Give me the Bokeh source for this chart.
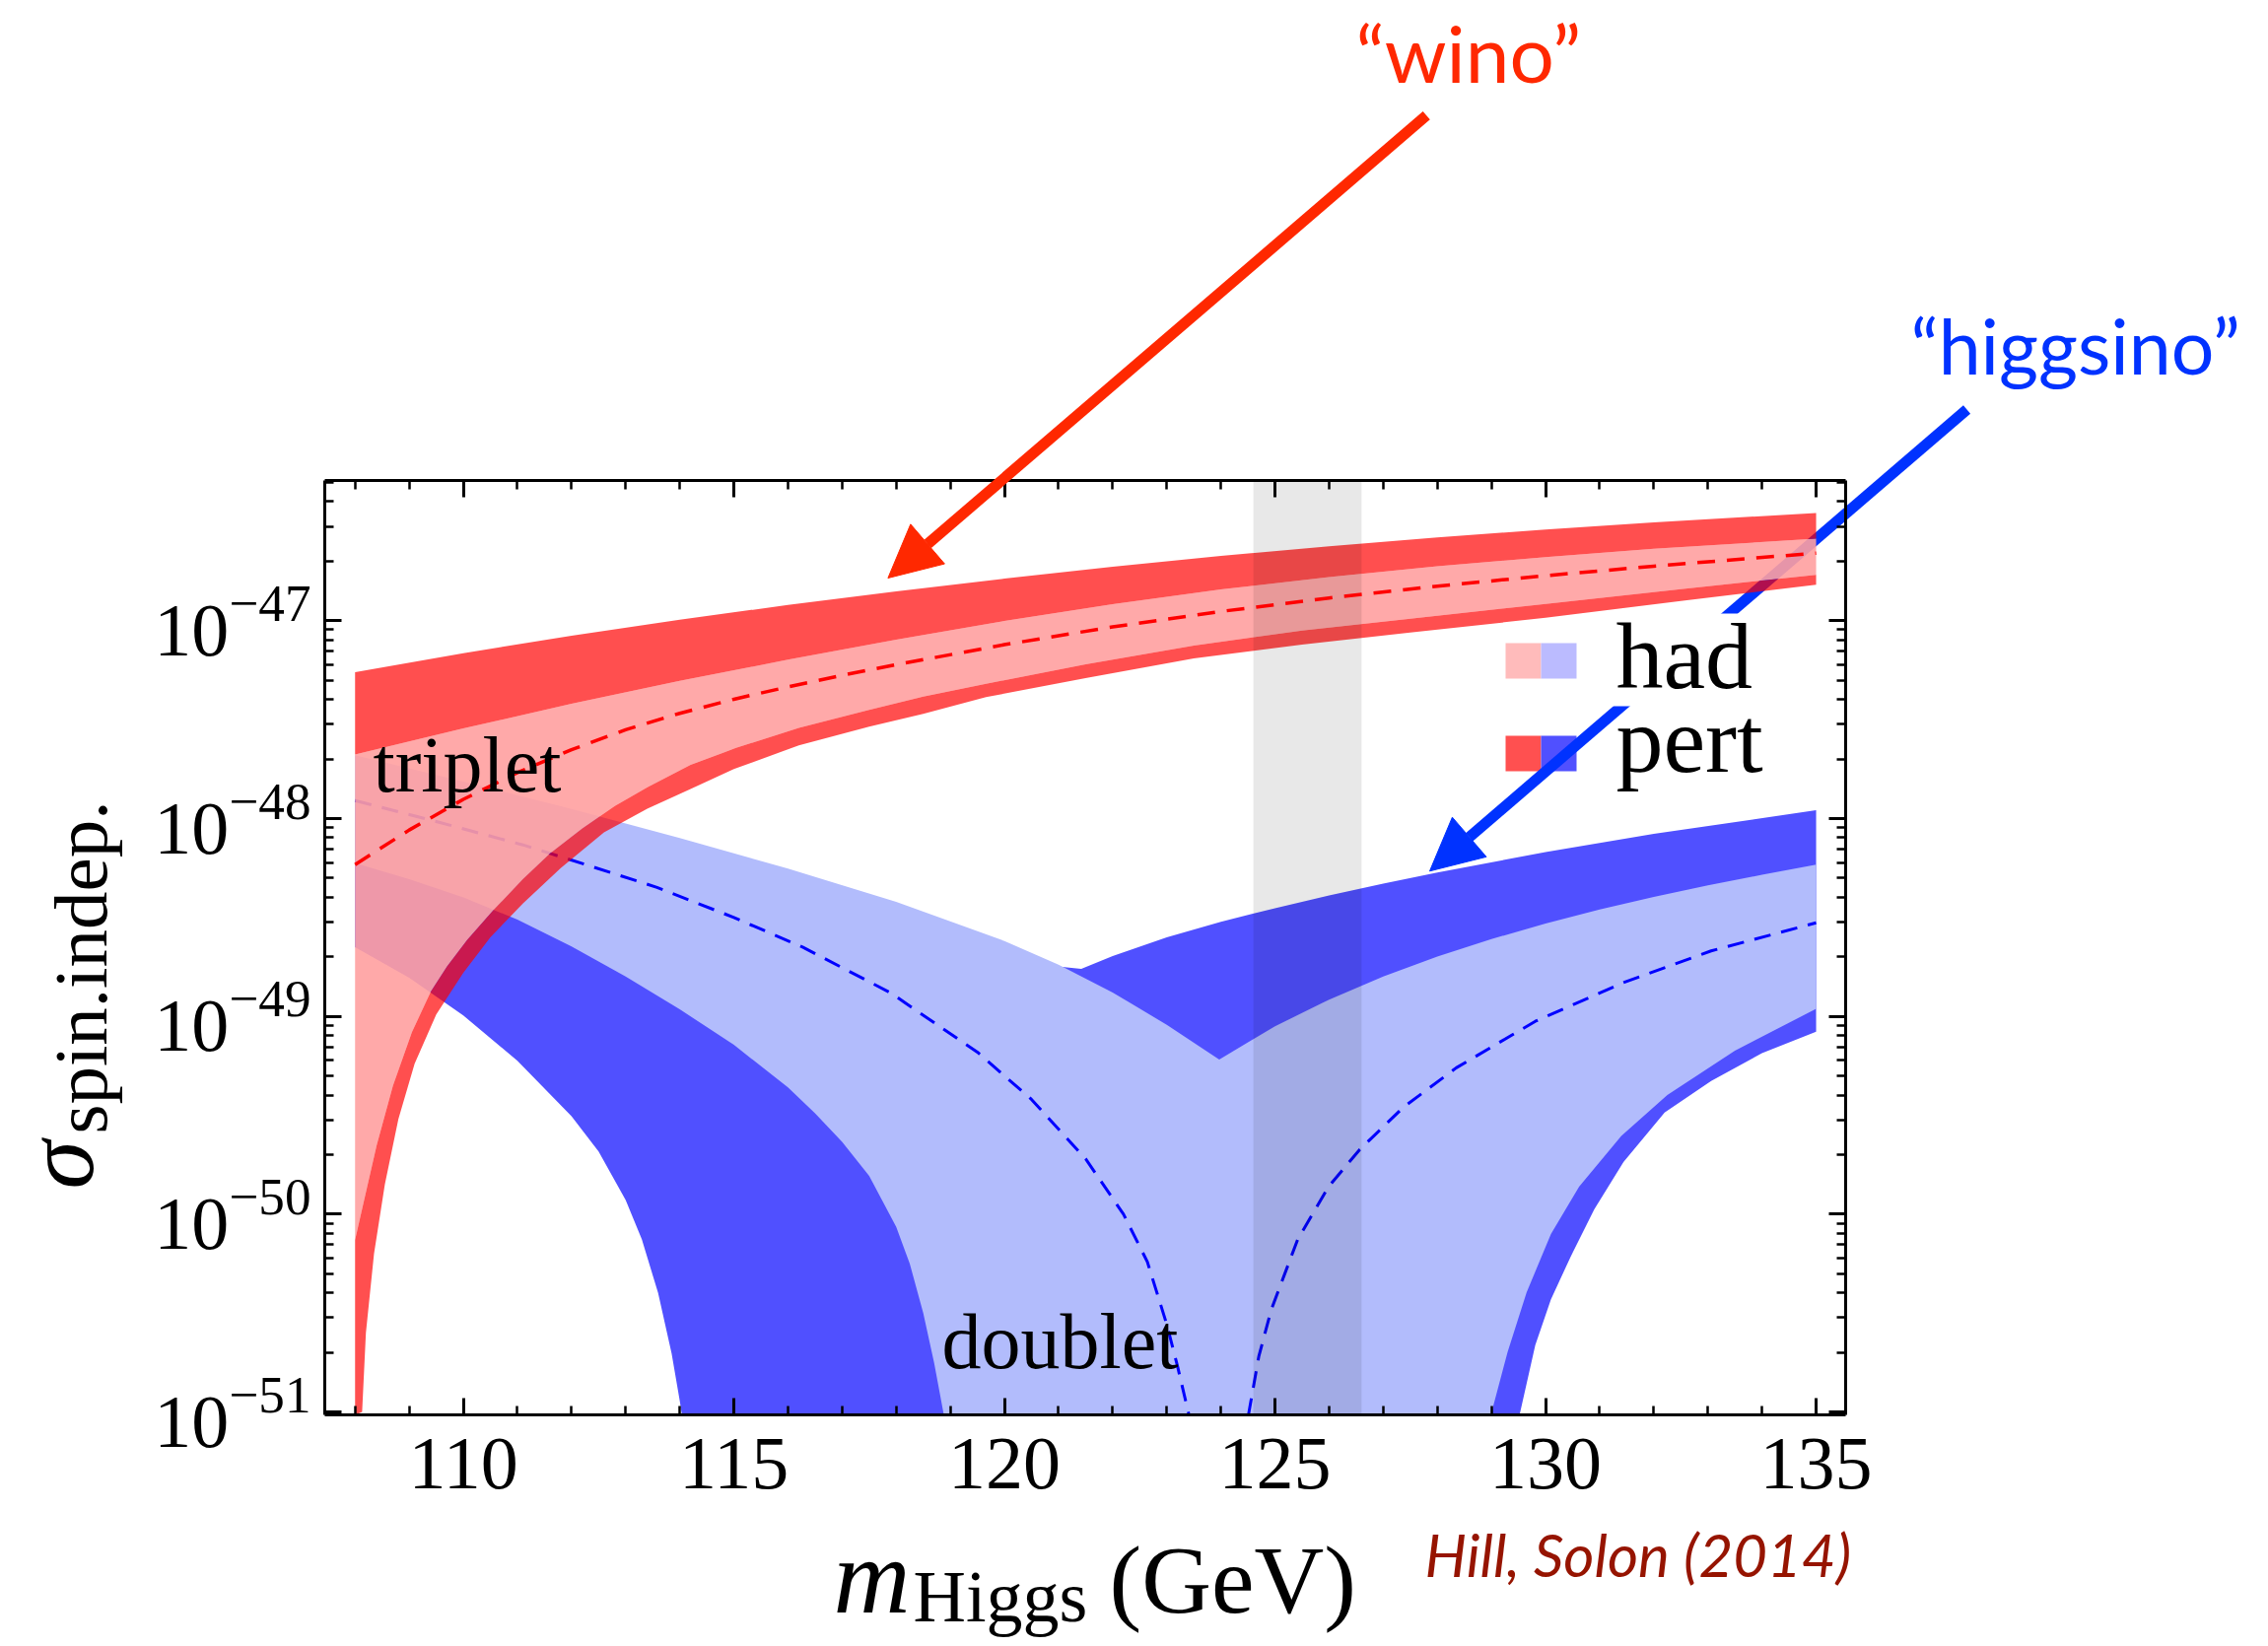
import math
from bokeh.plotting import figure
from bokeh.models import (FixedTicker, LinearAxis, LogAxis, Label, Arrow, NormalHead,
                          CustomJSTickFormatter, Range1d)
from bokeh.embed import file_html
from bokeh.resources import INLINE

# ---------------- geometry helpers (reference page pixels -> data) ----------------
PX_LEFT, PX_PER_GEV, X0 = 329.0, 54.9, 107.44
PY_E47, PX_PER_DEC = 629.3, 200.7

def X(px):
    return X0 + (px - PX_LEFT) / PX_PER_GEV

def LY(py):
    return -47.0 - (py - PY_E47) / PX_PER_DEC

def Y(py):
    return 10.0 ** LY(py)

BOTTOM = LY(1435)          # log10 of the lower edge of the plot box (bands reaching zero end here)

# ---------------- data ----------------
x_major_ticks = [110, 115, 120, 125, 130, 135]
x_minor_ticks = list(range(108, 136))
y_major_exponents = [-51, -50, -49, -48, -47]
higgs_mass_band = [124.6, 126.6]

# triplet ("wino"): log10(sigma)
trip_pert_up_x = [108, 110, 112, 114, 116, 118, 120, 122, 124, 126, 128, 130, 132, 135]
trip_pert_up_lg = [-47.26, -47.164, -47.076, -46.995, -46.92, -46.851, -46.787, -46.727, -46.672,
                   -46.623, -46.579, -46.539, -46.503, -46.455]
trip_had_up_x = [108, 110, 112, 114, 116, 118, 120, 122, 124, 126, 128, 130, 132, 135]
trip_had_up_lg = [-47.676, -47.544, -47.42, -47.304, -47.197, -47.096, -47.001, -46.916, -46.842,
                  -46.779, -46.725, -46.678, -46.636, -46.585]
trip_central_x = [108, 109, 110, 111, 112, 113, 114, 115, 116, 117, 118, 120, 122, 124, 126, 128, 130, 132, 135]
trip_central_lg = [-48.233, -48.058, -47.903, -47.768, -47.652, -47.551, -47.468, -47.397, -47.334,
                   -47.276, -47.222, -47.121, -47.031, -46.953, -46.885, -46.825, -46.772, -46.724, -46.658]
trip_had_lo_x = [108.0, 108.15, 108.4, 108.7, 109.05, 109.4, 109.7, 110.07, 110.55, 111.1, 111.6, 112.2,
                 112.8, 113.41, 114.2, 115.04, 116.2, 117.48, 118.5, 119.66, 121.5, 123.5, 125.5, 127.5,
                 130, 132.5, 135]
trip_had_lo_lg = [-50.13, -49.95, -49.65, -49.35, -49.08, -48.874, -48.747, -48.614, -48.465, -48.307,
                  -48.177, -48.05, -47.936, -47.84, -47.729, -47.643, -47.541, -47.452, -47.383, -47.319,
                  -47.22, -47.125, -47.05, -46.99, -46.915, -46.84, -46.768]
trip_pert_lo_x = [108.0, 108.13, 108.2, 108.35, 108.55, 108.8, 109.1, 109.5, 110.0, 110.5, 111.1, 111.8,
                  112.6, 113.4, 114.2, 115.0, 116.2, 117.5, 118.5, 119.66, 121.5, 123.5, 125.5, 127.5,
                  130, 132.5, 135]
trip_pert_lo_lg = [BOTTOM, -51.0, -50.6, -50.2, -49.85, -49.52, -49.24, -48.99, -48.78, -48.60, -48.43,
                   -48.25, -48.07, -47.95, -47.85, -47.75, -47.63, -47.535, -47.47, -47.386, -47.29,
                   -47.19, -47.12, -47.06, -46.985, -46.9, -46.818]

# doublet ("higgsino"): log10(sigma)
doub_had_up_x = [108, 110, 112, 114, 116, 118, 120, 121, 122, 123, 123.97, 125, 126, 127, 128, 129,
                 130, 131, 132, 133, 134, 135]
doub_had_up_lg = [-47.68, -47.813, -47.952, -48.098, -48.253, -48.421, -48.619, -48.739, -48.879,
                  -49.042, -49.218, -49.05, -48.915, -48.799, -48.698, -48.609, -48.531, -48.46,
                  -48.396, -48.338, -48.284, -48.233]
doub_pert_up_x = [108, 113, 117, 120, 121.42, 122, 123, 124, 125, 126, 127, 128, 130, 132, 135]
doub_pert_up_lg = [-47.9, -48.2, -48.5, -48.72, -48.76, -48.695, -48.60, -48.522, -48.453, -48.389,
                   -48.329, -48.273, -48.169, -48.077, -47.958]
doub_had_lo_left_x = [108, 109, 110, 111, 112, 113, 114, 115, 116, 116.5, 117, 117.5, 118, 118.25,
                      118.5, 118.7, 118.88]
doub_had_lo_left_lg = [-48.226, -48.306, -48.399, -48.511, -48.646, -48.799, -48.964, -49.144, -49.359,
                       -49.49, -49.634, -49.806, -50.064, -50.25, -50.50, -50.75, BOTTOM]
doub_had_lo_right_x = [128.99, 129.3, 129.65, 130.1, 130.62, 131.4, 132.25, 133.5, 135]
doub_had_lo_right_lg = [BOTTOM, -50.695, -50.395, -50.10, -49.861, -49.604, -49.398, -49.173, -48.962]
doub_pert_lo_left_x = [108, 109, 110, 111, 112, 112.5, 113, 113.3, 113.6, 113.85, 114.0, 114.04]
doub_pert_lo_left_lg = [-48.65, -48.805, -48.995, -49.225, -49.505, -49.683, -49.928, -50.128, -50.398,
                        -50.704, -50.944, BOTTOM]
doub_pert_lo_right_x = [129.52, 129.81, 130.1, 130.46, 130.9, 131.44, 132.2, 133.06, 134.0, 135]
doub_pert_lo_right_lg = [BOTTOM, -50.662, -50.43, -50.217, -49.975, -49.737, -49.486, -49.327, -49.186, -49.078]
doub_central_left_x = [108, 109.5, 111.1, 112.3, 113.58, 115.0, 116.27, 117.89, 119.52, 120.5, 121.5,
                       122.2, 122.64, 123.0, 123.2, 123.41]
doub_central_left_lg = [-47.909, -48.015, -48.133, -48.236, -48.348, -48.50, -48.65, -48.88, -49.185,
                        -49.42, -49.72, -50.0, -50.24, -50.557, -50.77, BOTTOM]
doub_central_right_x = [124.51, 124.7, 124.93, 125.42, 125.99, 126.56, 127.37, 128.35, 129.81, 131.44, 133.06, 135]
doub_central_right_lg = [BOTTOM, -50.72, -50.484, -50.127, -49.861, -49.675, -49.46, -49.26, -49.025,
                         -48.829, -48.669, -48.527]

# ---------------- helpers ----------------
def sig(lg):
    return [10.0 ** v for v in lg]

def poly(ux, ulg, lower_parts):
    xs, ys = list(ux), list(ulg)
    for lx, llg in lower_parts:
        xs += list(lx)[::-1]
        ys += list(llg)[::-1]
    return xs, sig(ys)

W, H = 2300, 1668
x_lo, x_hi = X(329), X(1872)
y_lo, y_hi = Y(1435), Y(487)

p = figure(frame_width=W, frame_height=H, min_border=0,
           x_range=Range1d(X(0), X(W)), y_range=Range1d(Y(H), Y(0)), y_axis_type="log",
           output_backend="svg", toolbar_location=None)
p.grid.visible = False
p.outline_line_color = None
p.background_fill_color = "white"
p.border_fill_color = "white"

xt = FixedTicker(ticks=x_major_ticks, minor_ticks=x_minor_ticks)
y_minor = [m * 10.0 ** e for e in range(-52, -45) for m in range(2, 10)]
y_minor = [v for v in y_minor if y_lo <= v <= y_hi]
yt = FixedTicker(ticks=[10.0 ** e for e in y_major_exponents], minor_ticks=y_minor)

def style_axis(ax):
    ax.axis_line_width = 3
    ax.axis_line_color = "black"
    ax.major_tick_in = 17
    ax.major_tick_out = 0
    ax.minor_tick_in = 9
    ax.minor_tick_out = 0
    ax.major_tick_line_width = 3
    ax.minor_tick_line_width = 2.5
    ax.major_tick_line_color = "black"
    ax.minor_tick_line_color = "black"
    ax.major_label_text_font = "Liberation Serif"
    ax.major_label_text_font_size = "76px"
    ax.major_label_text_color = "black"

xa = p.xaxis[0]
xa.ticker = xt
xa.fixed_location = y_lo
xa.bounds = (x_lo, x_hi)
style_axis(xa)
xa.major_label_standoff = 24
ya = p.yaxis[0]
ya.ticker = yt
ya.fixed_location = x_lo
ya.bounds = (y_lo, y_hi)
style_axis(ya)
ya.major_label_standoff = 14

blank = CustomJSTickFormatter(code="return ''")
top = LinearAxis(ticker=xt, formatter=blank, fixed_location=y_hi, bounds=(x_lo, x_hi))
style_axis(top)
p.add_layout(top, "above")
right = LogAxis(ticker=yt, formatter=blank, fixed_location=x_hi, bounds=(y_lo, y_hi))
style_axis(right)
p.add_layout(right, "right")

# ---------------- doublet bands (underlay) ----------------
BLUE_DARK = "#5050FF"
BLUE_LIGHT = "#B2BCFC"
xs, ys = poly(doub_pert_up_x, doub_pert_up_lg,
              [(doub_pert_lo_right_x, doub_pert_lo_right_lg), (doub_pert_lo_left_x, doub_pert_lo_left_lg)])
p.patch(xs, ys, fill_color=BLUE_DARK, line_color=None, level="underlay")
xs, ys = poly(doub_had_up_x, doub_had_up_lg,
              [(doub_had_lo_right_x, doub_had_lo_right_lg), (doub_had_lo_left_x, doub_had_lo_left_lg)])
p.patch(xs, ys, fill_color=BLUE_LIGHT, line_color=None, level="underlay")
p.line(doub_central_left_x, sig(doub_central_left_lg), line_color="#0000FF", line_width=3,
       line_dash="17 11", level="underlay")
p.line(doub_central_right_x, sig(doub_central_right_lg), line_color="#0000FF", line_width=3,
       line_dash="17 11", level="underlay")

# legend swatches of the "pert" row (the arrow passes over them)
p.quad(left=[X(1527)], right=[X(1563)], bottom=[Y(782)], top=[Y(746)], fill_color="#FF5050",
       line_color=None, level="underlay")
p.quad(left=[X(1563)], right=[X(1599)], bottom=[Y(782)], top=[Y(746)], fill_color="#5050FF",
       line_color=None, level="underlay")

BLUE_ANN = "#0032FF"
p.add_layout(Arrow(end=NormalHead(size=53, fill_color=BLUE_ANN, line_color=BLUE_ANN, line_width=1),
                   x_start=X(1995), y_start=Y(415), x_end=X(1450), y_end=Y(883.3),
                   line_color=BLUE_ANN, line_width=11, level="underlay"))

# ---------------- triplet bands ----------------
xs, ys = poly(trip_had_up_x, trip_had_up_lg, [(trip_had_lo_x, trip_had_lo_lg)])
p.patch(xs, ys, fill_color="#FFA0A0", fill_alpha=0.9, line_color=None)
xs, ys = poly(trip_pert_up_x, trip_pert_up_lg, [(trip_had_up_x, trip_had_up_lg)])
p.patch(xs, ys, fill_color="#FF0000", fill_alpha=0.69, line_color=None)
xs, ys = poly(trip_had_lo_x, trip_had_lo_lg, [(trip_pert_lo_x, trip_pert_lo_lg)])
p.patch(xs, ys, fill_color="#FF0000", fill_alpha=0.69, line_color=None)

# Higgs mass band
p.quad(left=[higgs_mass_band[0]], right=[higgs_mass_band[1]], bottom=[y_lo], top=[y_hi],
       fill_color="black", fill_alpha=0.09, line_color=None)

p.line(trip_central_x, sig(trip_central_lg), line_color="#FF0000", line_width=3.5, line_dash="18 12")

# legend "had" row (white box hides the arrow behind it)
p.quad(left=[X(1605)], right=[X(1800)], bottom=[Y(716)], top=[Y(622)], fill_color="white", line_color=None)
p.quad(left=[X(1527)], right=[X(1563)], bottom=[Y(688)], top=[Y(652)], fill_color="#FFBBBB", line_color=None)
p.quad(left=[X(1563)], right=[X(1599)], bottom=[Y(688)], top=[Y(652)], fill_color="#BBBBFF", line_color=None)

SERIF = "Liberation Serif"
BASE_SHIFT = 0.34   # measured offset of the rendered baseline below the anchor, in em

def lab(px, py, text, size, font=SERIF, color="black", style="normal", vertical=False):
    s = float(size)
    if vertical:
        x, y, ang = X(px - BASE_SHIFT * s), Y(py), math.pi / 2
    else:
        x, y, ang = X(px), Y(py - BASE_SHIFT * s), 0.0
    p.add_layout(Label(x=x, y=y, text=text, text_font=font, text_font_size=f"{size}px", text_color=color,
                       text_font_style=style, text_align="left", text_baseline="alphabetic", angle=ang))

lab(1639, 698, "had", 96)
lab(1639, 783, "pert", 96)
lab(378, 803, "triplet", 80)
lab(955, 1388, "doublet", 80)

RED_ANN = "#FF2800"
p.add_layout(Arrow(end=NormalHead(size=53, fill_color=RED_ANN, line_color=RED_ANN, line_width=1),
                   x_start=X(1446.7), y_start=Y(116.7), x_end=X(900.4), y_end=Y(586),
                   line_color=RED_ANN, line_width=11))

lab(1375, 80, "\u201cwino\u201d", 80, font="Lato", color=RED_ANN)
lab(1938, 376, "\u201chiggsino\u201d", 77, font="Lato", color=BLUE_ANN)
lab(1445, 1597, "Hill, Solon (2014)", 60, font="Lato", color="#961400", style="italic")

# axis titles
lab(845, 1636, "m", 108, style="italic")
lab(926, 1645, "Higgs", 74)
lab(1125, 1636, "(GeV)", 98)
lab(94, 1206, "\u03c3", 100, style="italic", vertical=True)
lab(108, 1150, "spin.indep.", 77, vertical=True)

open("out.html", "w").write(file_html(p, INLINE))
